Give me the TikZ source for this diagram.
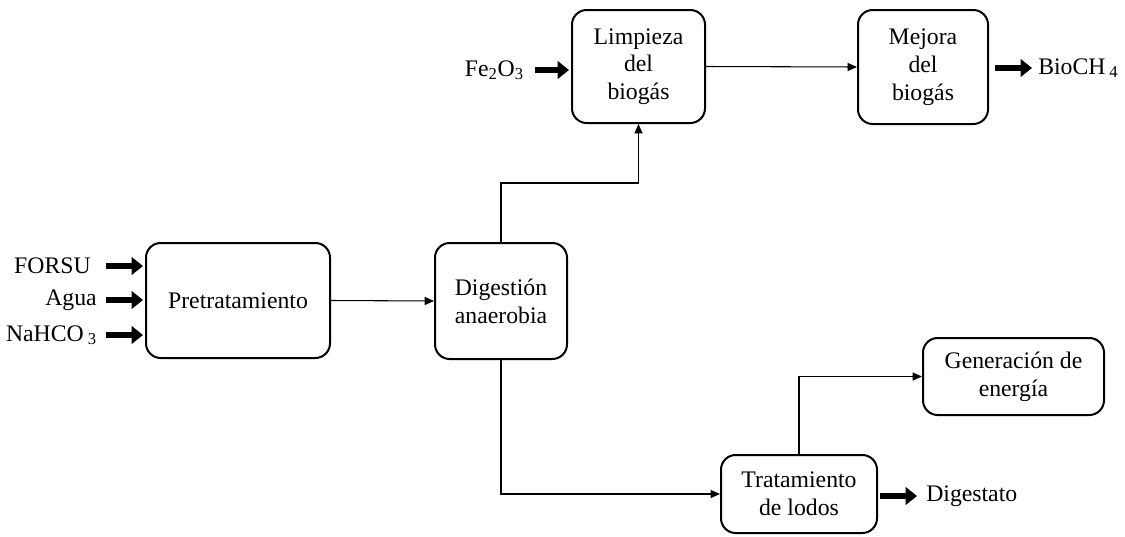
\documentclass[tikz,border=0pt]{standalone}
\usepackage{fontspec}
\setmainfont{Liberation Serif}
\usetikzlibrary{arrows.meta,calc}
\begin{document}
\begin{tikzpicture}[x=0.75pt,y=-0.75pt,
  box/.style={draw,line width=1.5pt,rounded corners=11pt,align=center,inner sep=0pt,
    font=\fontsize{17.8}{20.8}\selectfont},
  lbl/.style={inner sep=0pt,font=\fontsize{17.8}{20.8}\selectfont},
  conn/.style={line width=0.8pt,-{Triangle[length=7pt,width=6pt]}},
  fat/.style={line width=5.2pt,-{Triangle[length=8.5pt,width=13pt]}}]
\useasboundingbox (0,0) rectangle (1125,536);
% boxes
\node[box,minimum width=184*0.75pt,minimum height=115*0.75pt] (pre) at (238,300.5) {Pretratamiento};
\node[box,minimum width=132*0.75pt,minimum height=116*0.75pt] (dig) at (501,301) {Digestión\\anaerobia};
\node[box,minimum width=133*0.75pt,minimum height=113*0.75pt] (limp) at (638.5,66.5) {Limpieza\\del\\biogás};
\node[box,minimum width=130*0.75pt,minimum height=114*0.75pt] (mej) at (923,67) {Mejora\\del\\biogás};
\node[box,minimum width=156*0.75pt,minimum height=78*0.75pt] (trat) at (799,494) {Tratamiento\\de lodos};
\node[box,minimum width=181*0.75pt,minimum height=77*0.75pt] (gen) at (1013.5,376.5) {Generación de\\energía};
% inputs
\node[lbl,anchor=east] (forsu) at (91,266) {FORSU};
\node[lbl,anchor=east] (agua) at (97,300) {Agua};
\node[lbl,anchor=east] (nahco) at (97,335) {NaHCO\,\textsubscript{3}};
\coordinate (a1) at (106,266);
\coordinate (a2) at (106,300);
\coordinate (a3) at (106,335);
\draw[fat] (a1) -- ([xshift=-1.5pt]a1 -| pre.west);
\draw[fat] (a2) -- ([xshift=-1.5pt]a2 -| pre.west);
\draw[fat] (a3) -- ([xshift=-1.5pt]a3 -| pre.west);
\node[lbl,anchor=east] (fe) at (524,70) {Fe\textsubscript{2}O\textsubscript{3}};
\coordinate (a4) at (535,70);
\draw[fat] (a4) -- ([xshift=-1.5pt]a4 -| limp.west);
\coordinate (a5) at (995,68);
\draw[fat] (a5) -- (1032,68);
\node[lbl,anchor=west] (bio) at (1038,68) {BioCH\,\textsubscript{4}};
\coordinate (a6) at (880,496);
\draw[fat] (a6) -- (917,496);
\node[lbl,anchor=west] (dgt) at (926,496) {Digestato};
% connectors
\draw[conn] (pre.east) -- (dig.west);
\draw[conn] (dig.north) -- ++(0,-59) -| (limp.south);
\draw[conn] (limp.east) -- (mej.west);
\draw[conn] (dig.south) |- (trat.west);
\draw[conn] (trat.north) |- (gen.west);
\end{tikzpicture}
\end{document}
